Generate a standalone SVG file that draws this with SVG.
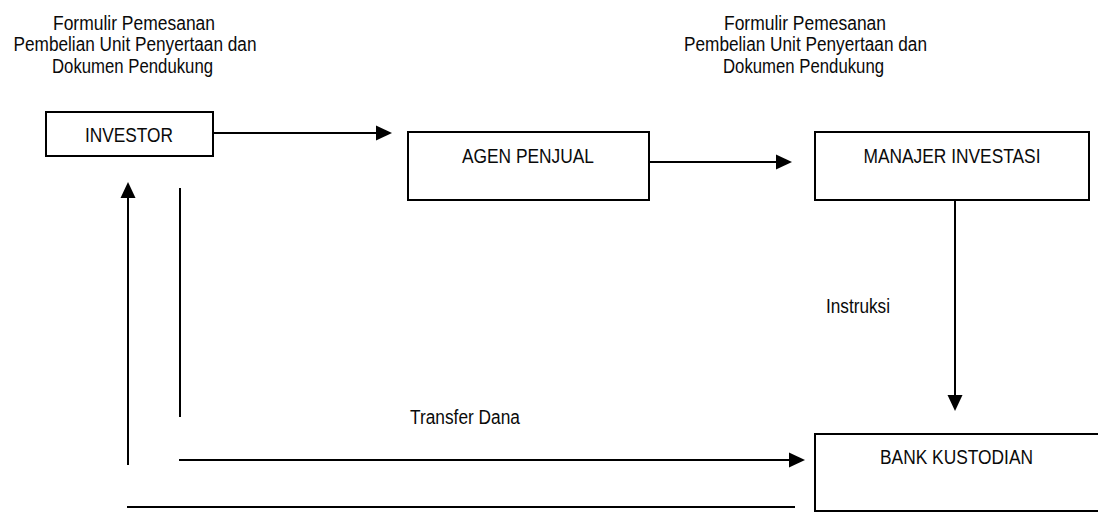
<svg xmlns="http://www.w3.org/2000/svg" width="1098" height="512" viewBox="0 0 1098 512">
<style>
  .box { fill: #ffffff; stroke: #000000; stroke-width: 2; }
  .t { font-family: "Liberation Sans", Arial, sans-serif; font-size: 20px; fill: #0a0a0a; }
  .ln { stroke: #000000; stroke-width: 2; fill: none; }
</style>
<defs>
  <marker id="ah" markerUnits="userSpaceOnUse" markerWidth="18" markerHeight="18" viewBox="0 -9 18 18" refX="0" refY="0" orient="auto" overflow="visible">
    <path d="M0,-7.5 L16,0 L0,7.5 Z" fill="#000000"/>
  </marker>
</defs>
<rect width="1098" height="512" fill="#ffffff"/>
<g id="label-form-1">
  <text class="t" x="53" y="29.5" textLength="162" lengthAdjust="spacingAndGlyphs">Formulir Pemesanan</text>
  <text class="t" x="13.5" y="51" textLength="243" lengthAdjust="spacingAndGlyphs">Pembelian Unit Penyertaan dan</text>
  <text class="t" x="52" y="72.5" textLength="161" lengthAdjust="spacingAndGlyphs">Dokumen Pendukung</text>
</g>
<g id="label-form-2">
  <text class="t" x="724" y="29.5" textLength="162" lengthAdjust="spacingAndGlyphs">Formulir Pemesanan</text>
  <text class="t" x="684" y="51" textLength="243" lengthAdjust="spacingAndGlyphs">Pembelian Unit Penyertaan dan</text>
  <text class="t" x="723" y="72.5" textLength="161" lengthAdjust="spacingAndGlyphs">Dokumen Pendukung</text>
</g>
<g id="investor">
  <rect class="box" x="46" y="112" width="167" height="44"/>
  <text class="t" x="85" y="141.5" textLength="88" lengthAdjust="spacingAndGlyphs">INVESTOR</text>
</g>
<g id="agen-penjual">
  <rect class="box" x="408" y="132" width="241" height="68"/>
  <text class="t" x="462" y="163" textLength="132" lengthAdjust="spacingAndGlyphs">AGEN PENJUAL</text>
</g>
<g id="manajer-investasi">
  <rect class="box" x="815" y="132" width="274" height="68"/>
  <text class="t" x="863.5" y="163" textLength="177" lengthAdjust="spacingAndGlyphs">MANAJER INVESTASI</text>
</g>
<g id="bank-kustodian">
  <rect class="box" x="815" y="434" width="300" height="77"/>
  <text class="t" x="880" y="463.5" textLength="153" lengthAdjust="spacingAndGlyphs">BANK KUSTODIAN</text>
</g>
<g id="connectors">
  <line class="ln" x1="213" y1="133" x2="376" y2="133" marker-end="url(#ah)"/>
  <line class="ln" x1="649" y1="162" x2="776" y2="162" marker-end="url(#ah)"/>
  <line class="ln" x1="955" y1="201" x2="955" y2="395" marker-end="url(#ah)"/>
  <line class="ln" x1="179" y1="460" x2="789" y2="460" marker-end="url(#ah)"/>
  <line class="ln" x1="128" y1="465" x2="128" y2="198" marker-end="url(#ah)"/>
  <line class="ln" x1="180" y1="188" x2="180" y2="417"/>
  <line class="ln" x1="127" y1="507" x2="795" y2="507"/>
  <text class="t" x="826" y="312.5" textLength="64" lengthAdjust="spacingAndGlyphs">Instruksi</text>
  <text class="t" x="410" y="424" textLength="110" lengthAdjust="spacingAndGlyphs">Transfer Dana</text>
</g>
</svg>
